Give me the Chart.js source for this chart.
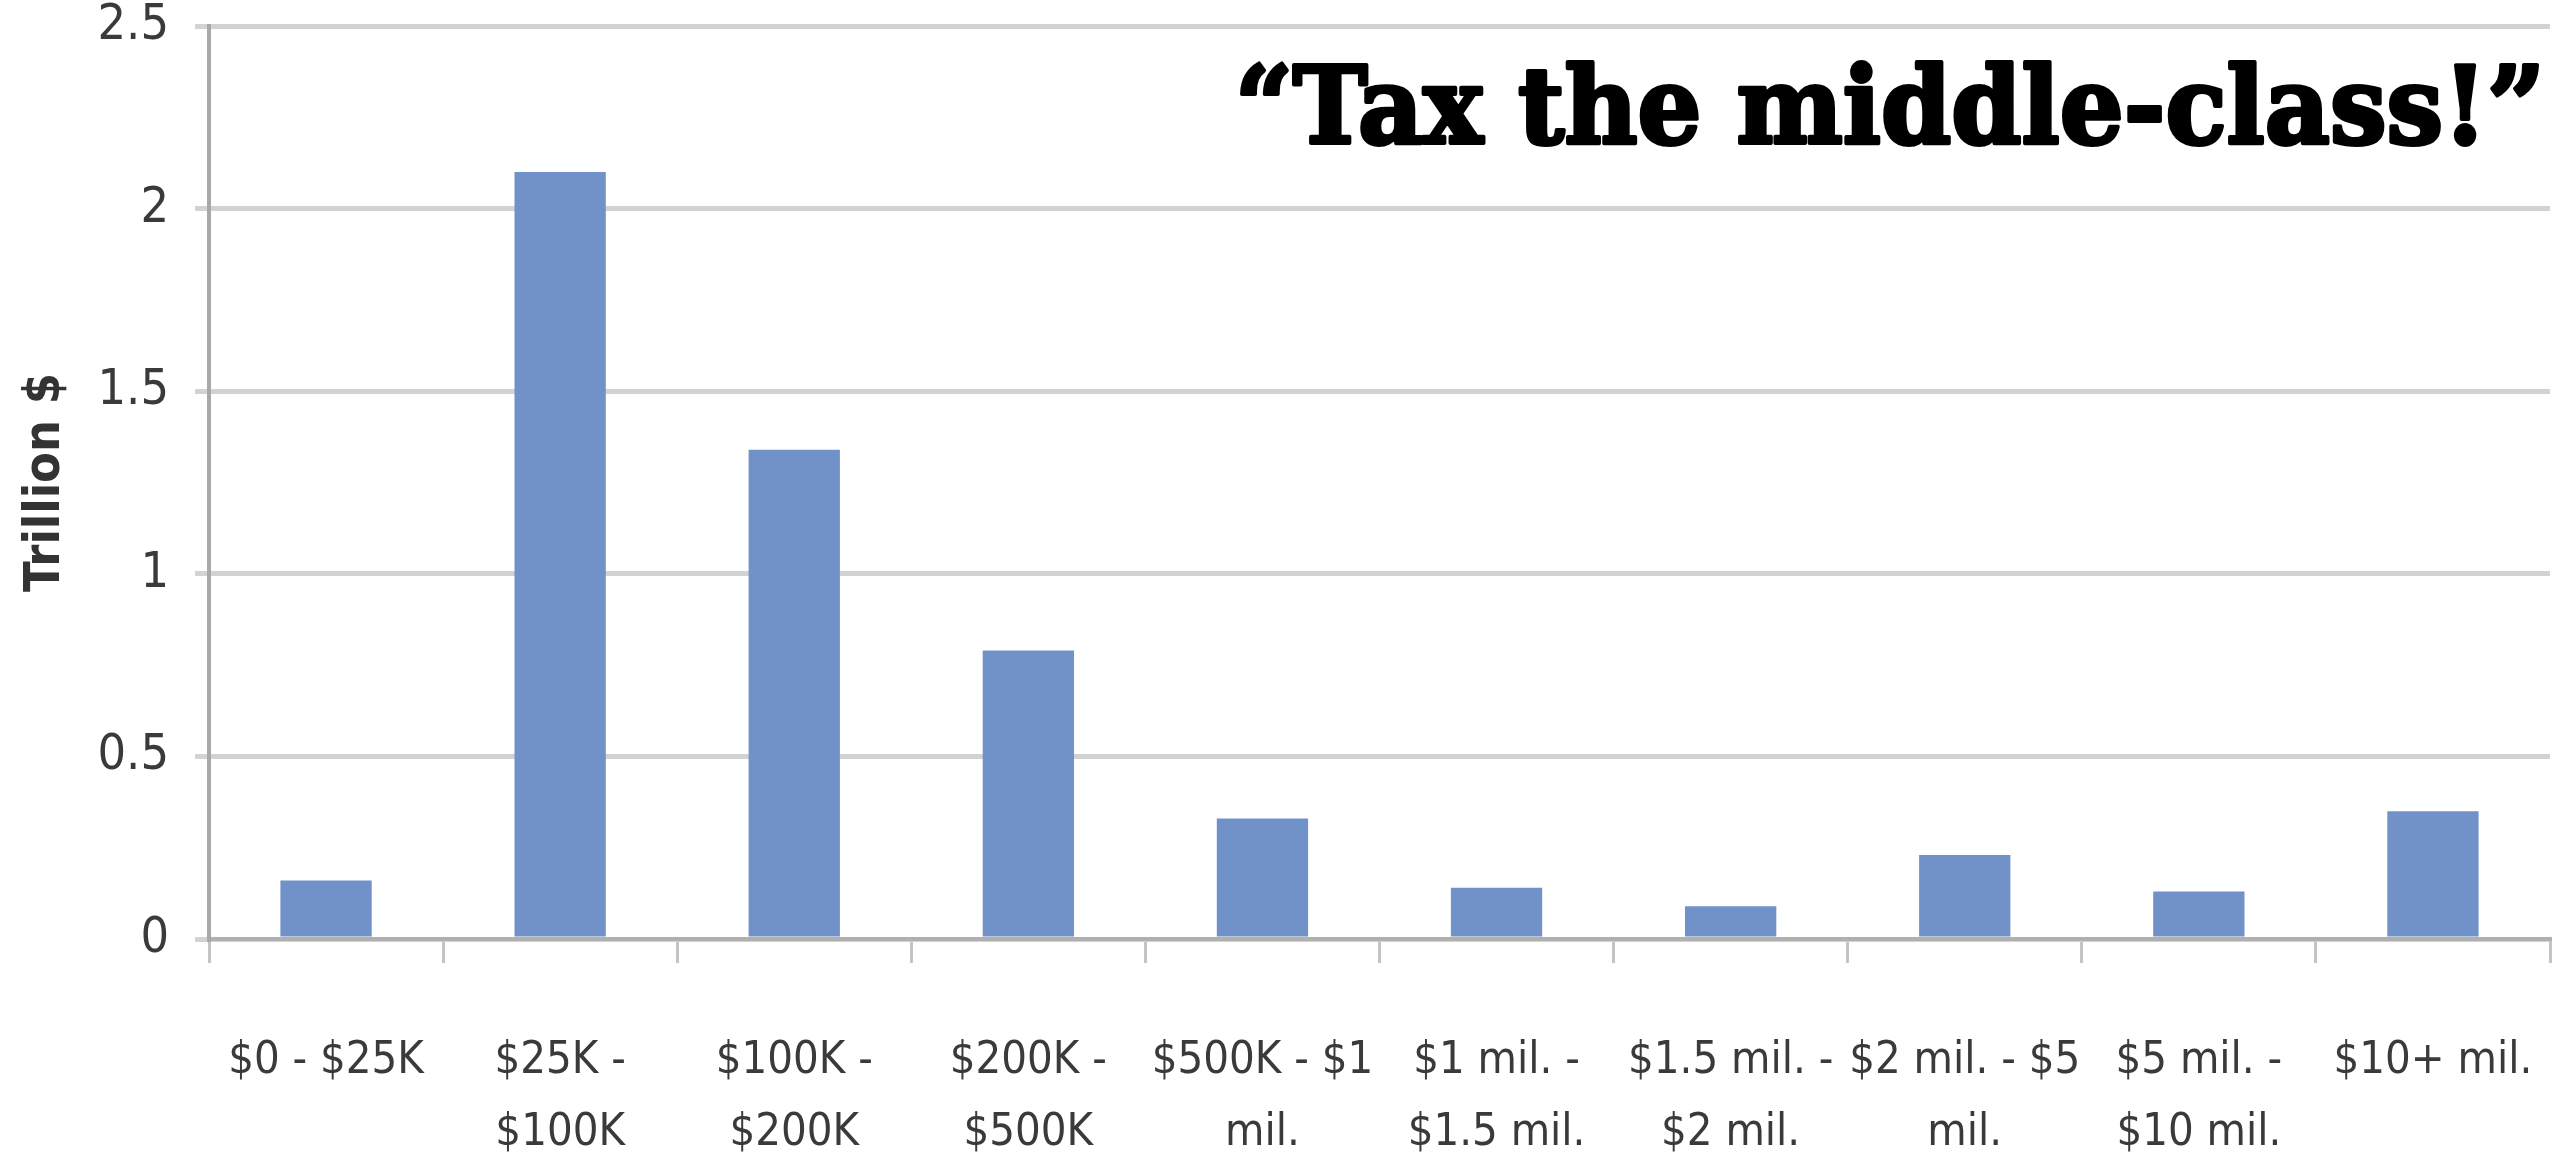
<!DOCTYPE html>
<html>
<head>
<meta charset="utf-8">
<script src="https://cdn.jsdelivr.net/npm/chart.js@4"></script>
<style>
    html, body { margin: 0; padding: 0; background: #fff; }
    #wrap { width: 2560px; height: 1174px; position: relative; }
</style>
</head>
<body>
<div id="wrap"><canvas id="chart"></canvas></div>
<script>
// Data
const categories = [
    ['$0 - $25K'],
    ['$25K -', '$100K'],
    ['$100K -', '$200K'],
    ['$200K -', '$500K'],
    ['$500K - $1', 'mil.'],
    ['$1 mil. -', '$1.5 mil.'],
    ['$1.5 mil. -', '$2 mil.'],
    ['$2 mil. - $5', 'mil.'],
    ['$5 mil. -', '$10 mil.'],
    ['$10+ mil.']
];
const values = [0.16, 2.10, 1.34, 0.79, 0.33, 0.14, 0.09, 0.23, 0.13, 0.35];
const yTicks = [0, 0.5, 1, 1.5, 2, 2.5];
const yTitle = 'Trillion $';
const headline = '\u201CTax the middle-class!\u201D';

const labelFont = "'DejaVu Sans Condensed', 'Liberation Sans Narrow', Arial, sans-serif";

// Headline drawn in the top right corner of the plot
const headlinePlugin = {
    id: 'headline',
    afterDraw(chart) {
        const ctx = chart.ctx;
        const right = 2547, left = 1233, baseline = 143;
        ctx.save();
        ctx.font = "bold 106px 'DejaVu Serif', serif";
        ctx.fillStyle = '#000';
        ctx.strokeStyle = '#000';
        ctx.lineWidth = 4;
        ctx.lineJoin = 'round';
        ctx.textBaseline = 'alphabetic';
        ctx.textAlign = 'left';
        const w = ctx.measureText(headline).width;
        const sx = (right - left - 4) / w;
        ctx.translate(left + 2, baseline);
        ctx.scale(sx, 1);
        ctx.fillText(headline, 0, 0);
        ctx.strokeText(headline, 0, 0);
        ctx.restore();
    }
};

const ctx = document.getElementById('chart').getContext('2d');
new Chart(ctx, {
    type: 'bar',
    data: {
        labels: categories,
        datasets: [{
            data: values,
            backgroundColor: '#7192c8',
            barPercentage: 0.39,
            categoryPercentage: 1
        }]
    },
    options: {
        responsive: true,
        maintainAspectRatio: false,
        animation: false,
        layout: { padding: { top: 26, right: 10, left: 16, bottom: 0 } },
        plugins: {
            legend: { display: false },
            tooltip: { enabled: false }
        },
        scales: {
            x: {
                grid: {
                    drawOnChartArea: false,
                    drawTicks: true,
                    tickLength: 24,
                    color: '#c4c4c4',
                    lineWidth: 3
                },
                border: { display: true, color: '#b0b0b0', width: 4 },
                ticks: {
                    color: '#3a3a3a',
                    font: { family: labelFont, size: 45, lineHeight: 1.6 },
                    padding: 62,
                    maxRotation: 0,
                    autoSkip: false
                },
                afterFit(scale) {
                    scale.height = 235;
                    scale.paddingLeft = 0;
                    scale.paddingRight = 0;
                }
            },
            y: {
                min: 0,
                max: 2.5,
                afterBuildTicks(scale) {
                    scale.ticks = yTicks.map(v => ({ value: v }));
                },
                grid: {
                    color: '#d2d2d2',
                    lineWidth: 5,
                    tickLength: 14
                },
                border: { display: true, color: '#a8a8a8', width: 4 },
                ticks: {
                    color: '#3a3a3a',
                    font: { family: labelFont, size: 50 },
                    padding: 26,
                    callback: v => String(v)
                },
                title: {
                    display: true,
                    text: yTitle,
                    color: '#333',
                    font: { family: labelFont, size: 50, weight: 'bold' },
                    padding: { top: 0, bottom: 0 }
                },
                afterFit(scale) {
                    scale.width = 193;
                    scale.paddingTop = 0;
                    scale.paddingBottom = 0;
                }
            }
        }
    },
    plugins: [headlinePlugin]
});
</script>
</body>
</html>
